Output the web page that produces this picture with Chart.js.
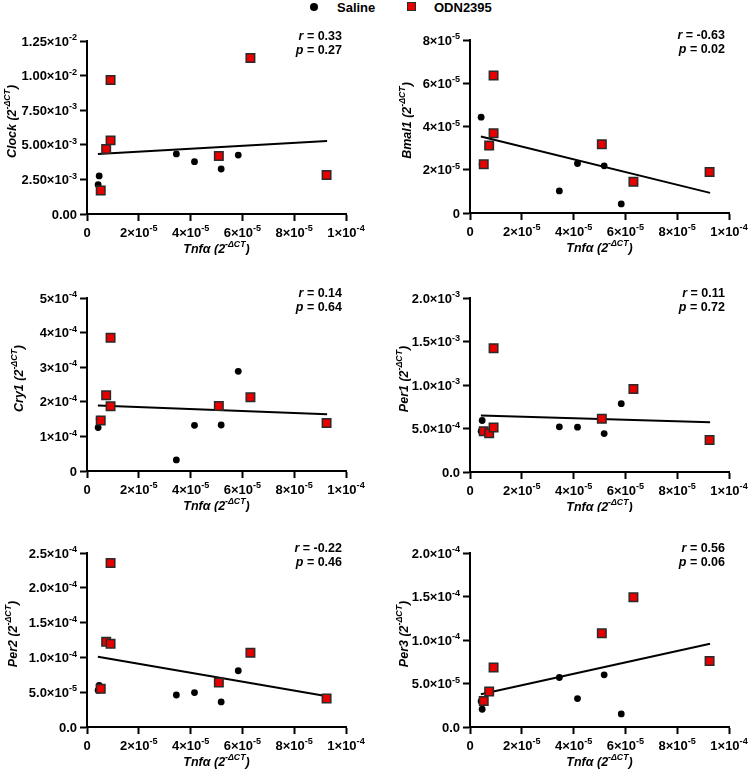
<!DOCTYPE html>
<html><head><meta charset="utf-8">
<script src="https://cdn.jsdelivr.net/npm/chart.js@4.4.1/dist/chart.umd.min.js"></script>
<style>
html,body{margin:0;padding:0;background:#fff;}
body{width:750px;height:772px;position:relative;overflow:hidden;font-family:"Liberation Sans",Arial,sans-serif;}
canvas{position:absolute;}
#legend{position:absolute;left:0;top:0;width:750px;height:16px;font:bold 13px "Liberation Sans",Arial,sans-serif;color:#000;}
#legend span{position:absolute;top:0;line-height:15px;}
.dot{position:absolute;width:8px;height:8px;border-radius:50%;background:#000;}
.sq{position:absolute;width:7px;height:7px;background:#e60000;border:1.5px solid #2a2a2a;}
</style></head>
<body>
<div id="legend">
  <div class="dot" style="left:310px;top:3px"></div><span style="left:337px">Saline</span>
  <div class="sq" style="left:407px;top:2px"></div><span style="left:434px">ODN2395</span>
</div>
<canvas id="c0"></canvas><canvas id="c1"></canvas>
<canvas id="c2"></canvas><canvas id="c3"></canvas>
<canvas id="c4"></canvas><canvas id="c5"></canvas>
<script>
// ---------- DATA ----------
const genes = ["Clock", "Bmal1", "Cry1", "Per1", "Per2", "Per3"];
const xTitle = "Tnfα";
const salineX = [4.3e-6, 4.7e-6, 3.45e-5, 4.15e-5, 5.18e-5, 5.84e-5];
const odnX = [5.3e-6, 7.4e-6, 9.1e-6, 9.1e-6, 5.09e-5, 6.31e-5, 9.25e-5];

const salineClock = [2.12e-3, 2.75e-3, 4.34e-3, 3.78e-3, 3.25e-3, 4.26e-3];
const odnClock = [1.69e-3, 4.70e-3, 5.32e-3, 9.68e-3, 4.19e-3, 1.127e-2, 2.82e-3];
const salineBmal1 = [4.43e-5, 2.25e-5, 1.02e-5, 2.29e-5, 2.18e-5, 4.2e-6];
const odnBmal1 = [2.25e-5, 3.12e-5, 3.69e-5, 6.36e-5, 3.18e-5, 1.44e-5, 1.90e-5];
const salineCry1 = [1.255e-4, 1.50e-4, 0.32e-4, 1.32e-4, 1.33e-4, 2.88e-4];
const odnCry1 = [1.46e-4, 2.19e-4, 1.87e-4, 3.85e-4, 1.88e-4, 2.13e-4, 1.39e-4];
const salinePer1 = [4.69e-4, 5.92e-4, 5.19e-4, 5.15e-4, 4.42e-4, 7.85e-4];
const odnPer1 = [4.69e-4, 4.46e-4, 5.12e-4, 1.423e-3, 6.12e-4, 9.54e-4, 3.69e-4];
const salinePer2 = [5.29e-5, 5.96e-5, 4.60e-5, 4.95e-5, 3.60e-5, 8.08e-5];
const odnPer2 = [5.48e-5, 1.226e-4, 1.197e-4, 2.356e-4, 6.40e-5, 1.067e-4, 4.09e-5];
const salinePer3 = [2.96e-5, 2.04e-5, 5.69e-5, 3.27e-5, 6.00e-5, 1.50e-5];
const odnPer3 = [3.00e-5, 4.08e-5, 6.85e-5, null, 1.077e-4, 1.492e-4, 7.58e-5];

// regression line endpoints
const fitX = [4.2e-6, 9.27e-5];
const fitClock = [4.33e-3, 5.27e-3];
const fitBmal1 = [3.54e-5, 0.93e-5];
const fitCry1 = [1.89e-4, 1.64e-4];
const fitPer1 = [6.50e-4, 5.73e-4];
const fitPer2 = [1.01e-4, 4.42e-5];
const fitPer3 = [3.77e-5, 9.58e-5];

const rValues = ["0.33", "-0.63", "0.14", "0.11", "-0.22", "0.56"];
const pValues = ["0.27", "0.02", "0.64", "0.72", "0.46", "0.06"];

const xTickValues = [0, 2e-5, 4e-5, 6e-5, 8e-5, 1e-4];
const xTickLabels = ["0", "2×10^-5", "4×10^-5", "6×10^-5", "8×10^-5", "1×10^-4"];

const yTicksClock = [0, 2.5e-3, 5e-3, 7.5e-3, 1e-2, 1.25e-2];
const yLabelsClock = ["0.00", "2.50×10^-3", "5.00×10^-3", "7.50×10^-3", "1.00×10^-2", "1.25×10^-2"];
const yTicksBmal1 = [0, 2e-5, 4e-5, 6e-5, 8e-5];
const yLabelsBmal1 = ["0", "2×10^-5", "4×10^-5", "6×10^-5", "8×10^-5"];
const yTicksCry1 = [0, 1e-4, 2e-4, 3e-4, 4e-4, 5e-4];
const yLabelsCry1 = ["0", "1×10^-4", "2×10^-4", "3×10^-4", "4×10^-4", "5×10^-4"];
const yTicksPer1 = [0, 5e-4, 1e-3, 1.5e-3, 2e-3];
const yLabelsPer1 = ["0.0", "5.0×10^-4", "1.0×10^-3", "1.5×10^-3", "2.0×10^-3"];
const yTicksPer2 = [0, 5e-5, 1e-4, 1.5e-4, 2e-4, 2.5e-4];
const yLabelsPer2 = ["0.0", "5.0×10^-5", "1.0×10^-4", "1.5×10^-4", "2.0×10^-4", "2.5×10^-4"];
const yTicksPer3 = [0, 5e-5, 1e-4, 1.5e-4, 2e-4];
const yLabelsPer3 = ["0.0", "5.0×10^-5", "1.0×10^-4", "1.5×10^-4", "2.0×10^-4"];

// ---------- LAYOUT (page px) ----------
const panels = [
  {sal: salineClock, odn: odnClock, fit: fitClock, yt: yTicksClock, yl: yLabelsClock,
   canvas: [0, 16, 375, 239], area: [87, 41, 346, 214], yTitleX: 11},
  {sal: salineBmal1, odn: odnBmal1, fit: fitBmal1, yt: yTicksBmal1, yl: yLabelsBmal1,
   canvas: [375, 16, 375, 239], area: [470, 40, 729, 213], yTitleX: 406},
  {sal: salineCry1, odn: odnCry1, fit: fitCry1, yt: yTicksCry1, yl: yLabelsCry1,
   canvas: [0, 262, 375, 250], area: [87, 298, 346, 471], yTitleX: 18},
  {sal: salinePer1, odn: odnPer1, fit: fitPer1, yt: yTicksPer1, yl: yLabelsPer1,
   canvas: [375, 262, 375, 250], area: [470, 298, 729, 472], yTitleX: 403},
  {sal: salinePer2, odn: odnPer2, fit: fitPer2, yt: yTicksPer2, yl: yLabelsPer2,
   canvas: [0, 517, 375, 255], area: [87, 553, 346, 727], yTitleX: 12},
  {sal: salinePer3, odn: odnPer3, fit: fitPer3, yt: yTicksPer3, yl: yLabelsPer3,
   canvas: [375, 517, 375, 255], area: [470, 553, 729, 727], yTitleX: 403},
];

const FONT = '"Liberation Sans", Arial, Helvetica, sans-serif';
const TICK_SIZE = 13;
const TITLE_SIZE = 12.5;

function parseLabel(s) {
  const i = s.indexOf('^');
  if (i < 0) return [{t: s}];
  return [{t: s.slice(0, i)}, {t: s.slice(i + 1), sup: true}];
}
function fontOf(p, size) {
  return (p.it ? 'italic ' : '') + 'bold ' + (p.sup ? size * 0.7 : size) + 'px ' + FONT;
}
function drawRich(ctx, parts, x, yMid, align, size) {
  let w = 0;
  for (const p of parts) { ctx.font = fontOf(p, size); p.w = ctx.measureText(p.t).width; w += p.w; }
  let sx = align === 'center' ? x - w / 2 : (align === 'right' ? x - w : x);
  ctx.textAlign = 'left';
  ctx.textBaseline = 'alphabetic';
  const base = yMid + size * 0.36;
  for (const p of parts) {
    ctx.font = fontOf(p, size);
    ctx.fillText(p.t, sx, base - (p.sup ? size * 0.42 : 0));
    sx += p.w;
  }
}
function titleParts(name) {
  return [{t: name + ' (2', it: true}, {t: '-ΔCT', it: true, sup: true}, {t: ')', it: true}];
}

panels.forEach((P, idx) => {
  const cv = document.getElementById('c' + idx);
  const [cx, cy, cw, ch] = P.canvas;
  const [L, T, R, B] = P.area;
  cv.style.left = cx + 'px'; cv.style.top = cy + 'px';
  cv.style.width = cw + 'px'; cv.style.height = ch + 'px';
  cv.width = cw; cv.height = ch;

  const annot = {
    id: 'annot' + idx,
    afterDraw(chart) {
      const ctx = chart.ctx;
      const xs = chart.scales.x, ys = chart.scales.y;
      ctx.save();
      ctx.fillStyle = '#000';
      P.yt.forEach((v, i) => {
        drawRich(ctx, parseLabel(P.yl[i]), xs.left - 10, ys.getPixelForValue(v), 'right', TICK_SIZE);
      });
      xTickValues.forEach((v, i) => {
        drawRich(ctx, parseLabel(xTickLabels[i]), xs.getPixelForValue(v), ys.bottom + 18, 'center', TICK_SIZE);
      });
      drawRich(ctx, titleParts(xTitle), (xs.left + xs.right) / 2, ys.bottom + 34, 'center', TITLE_SIZE);
      ctx.save();
      ctx.translate(P.yTitleX - cx, (ys.top + ys.bottom) / 2 - 6);
      ctx.rotate(-Math.PI / 2);
      drawRich(ctx, titleParts(genes[idx]), 0, 0, 'center', TITLE_SIZE);
      ctx.restore();
      const rx = xs.right - 4;
      drawRich(ctx, [{t: 'r', it: true}, {t: ' = ' + rValues[idx]}], rx, ys.top - 6, 'right', TITLE_SIZE);
      drawRich(ctx, [{t: 'p', it: true}, {t: ' = ' + pValues[idx]}], rx, ys.top + 8.5, 'right', TITLE_SIZE);
      ctx.restore();
    }
  };

  new Chart(cv, {
    type: 'scatter',
    data: {
      datasets: [
        {label: 'ODN2395', data: odnX.map((x, i) => ({x, y: P.odn[i]})),
         pointStyle: 'rect', pointRadius: 6, pointBackgroundColor: '#e60000',
         pointBorderColor: '#2a2a2a', pointBorderWidth: 1.5, order: 1},
        {label: 'Saline', data: salineX.map((x, i) => ({x, y: P.sal[i]})),
         pointStyle: 'circle', pointRadius: 3.4, pointBackgroundColor: '#000',
         pointBorderColor: '#000', pointBorderWidth: 0, order: 2},
        {label: 'fit', type: 'line', data: fitX.map((x, i) => ({x, y: P.fit[i]})),
         borderColor: '#000', borderWidth: 2, pointRadius: 0, fill: false, order: 3}
      ]
    },
    options: {
      responsive: false, animation: false, devicePixelRatio: 1,
      layout: {padding: {left: 0, top: T - cy, right: cx + cw - R, bottom: 0}},
      plugins: {legend: {display: false}, tooltip: {enabled: false}},
      elements: {point: {hoverRadius: 0}},
      scales: {
        x: {type: 'linear', min: 0, max: 1e-4,
            afterBuildTicks: s => { s.ticks = xTickValues.map(v => ({value: v})); },
            afterFit: s => { s.height = cy + ch - B; },
            ticks: {display: false},
            grid: {display: true, drawOnChartArea: false, drawTicks: true, tickLength: 7,
                   tickColor: '#000', tickWidth: 2},
            border: {display: true, color: '#000', width: 2}},
        y: {type: 'linear', min: 0, max: P.yt[P.yt.length - 1],
            afterBuildTicks: s => { s.ticks = P.yt.map(v => ({value: v})); },
            afterFit: s => { s.width = L - cx; },
            ticks: {display: false},
            grid: {display: true, drawOnChartArea: false, drawTicks: true, tickLength: 7,
                   tickColor: '#000', tickWidth: 2},
            border: {display: true, color: '#000', width: 2}}
      }
    },
    plugins: [annot]
  });
});
</script>
</body></html>
